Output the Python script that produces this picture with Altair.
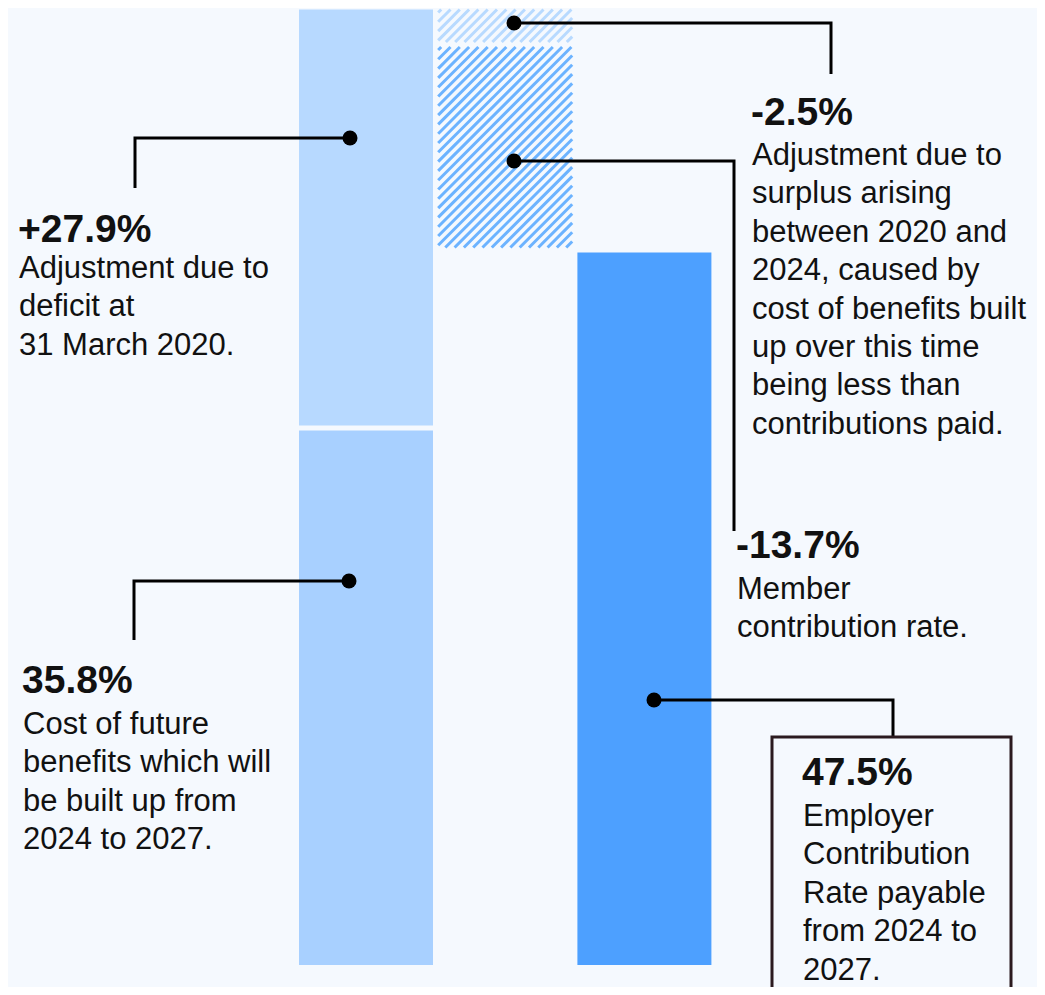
import altair as alt
import pandas as pd

# ---------------- data ----------------
STEP_LABELS = ["Future benefits cost", "Deficit adjustment", "Surplus adjustment",
               "Member contribution rate", "Employer contribution rate"]
STEP_VALUES = [35.8, 27.9, -2.5, -13.7, 47.5]
STEP_COLUMN = [0, 0, 1, 1, 2]
STEP_HATCHED = [False, False, True, True, False]
STEP_COLORS = ["#a8d0ff", "#b7d9ff", "#b8daff", "#6cb3ff", "#4da0ff"]
VALUE_LABELS = ["35.8%", "+27.9%", "-2.5%", "-13.7%", "47.5%"]
DESCRIPTIONS = [
    ["Cost of future", "benefits which will", "be built up from", "2024 to 2027."],
    ["Adjustment due to", "deficit at", "31 March 2020."],
    ["Adjustment due to", "surplus arising", "between 2020 and", "2024, caused by",
     "cost of benefits built", "up over this time", "being less than", "contributions paid."],
    ["Member", "contribution rate."],
    ["Employer", "Contribution", "Rate payable", "from 2024 to", "2027."],
]

# ---------------- layout (page pixels) ----------------
BG = "#f5f9fe"
W, H = 1029, 979
X_ORIGIN, PX_X = 366.0, 139.2     # column 0 centre, px per column
Y_ZERO, PX_Y = 965.0, 15.0        # baseline of bars, px per percentage point
HALF_W = 67.0 / PX_X


def ux(px):
    return (px - X_ORIGIN) / PX_X


def uy(py):
    return (Y_ZERO - py) / PX_Y


X_DOM = [ux(8), ux(8 + W)]
Y_DOM = [uy(8 + H), uy(8)]

# annotation placement: dot, elbow x, leader end y, label x, bold baseline, first body baseline
ANNOT = [
    dict(dot=(349, 581), ex=134, ey=640, tx=22, base=693, first=734),
    dict(dot=(350, 138), ex=135, ey=188, tx=18, base=242, first=278),
    dict(dot=(514, 23), ex=831, ey=74, tx=751, base=125, first=165),
    dict(dot=(514, 161), ex=734, ey=531, tx=736, base=558, first=599),
    dict(dot=(654, 700), ex=893, ey=738, tx=802, base=785, first=826),
]
LINE_STEP = 38.4
BOX = dict(x0=772, x1=1011, top=737)

# ---------------- derived tables ----------------
segs = []
running = 0.0
for i, v in enumerate(STEP_VALUES):
    if i == len(STEP_VALUES) - 1:
        lo, hi = 0.0, v
    else:
        start, end = running, running + v
        running = end
        lo, hi = min(start, end), max(start, end)
    c = STEP_COLUMN[i]
    segs.append(dict(label=STEP_LABELS[i], x0=c - HALF_W, x1=c + HALF_W, lo=lo, hi=hi,
                     color=STEP_COLORS[i], hatched=STEP_HATCHED[i]))

solid = pd.DataFrame([s for s in segs if not s["hatched"]])

# gap between stacked solid segments of column 0
gaps = pd.DataFrame([dict(x0=segs[0]["x0"], x1=segs[0]["x1"], y=segs[0]["hi"])])

# hatch stripes (diagonal "/"), clipped to each hatched segment
GAP_PX = 5.0
PERIOD = 9.3
stripes = []
for s in segs:
    if not s["hatched"]:
        continue
    x0p = X_ORIGIN + s["x0"] * PX_X
    x1p = X_ORIGIN + s["x1"] * PX_X
    ytp = Y_ZERO - s["hi"] * PX_Y
    ybp = Y_ZERO - s["lo"] * PX_Y - GAP_PX
    c = x0p + ytp + 3.0
    while c < x1p + ybp:
        xa = max(x0p, c - ybp)
        xb = min(x1p, c - ytp)
        if xb - xa > 0.5:
            stripes.append(dict(x=ux(xa), y=uy(c - xa), x2=ux(xb), y2=uy(c - xb), color=s["color"]))
        c += PERIOD
stripes = pd.DataFrame(stripes)

leader_rows, dot_rows, bold_rows, body_rows = [], [], [], []
for i, a in enumerate(ANNOT):
    dx, dy = a["dot"]
    for k, (px, py) in enumerate([(dx, dy), (a["ex"], dy), (a["ex"], a["ey"])]):
        leader_rows.append(dict(id=i, k=k, x=ux(px), y=uy(py)))
    dot_rows.append(dict(x=ux(dx), y=uy(dy)))
    bold_rows.append(dict(x=ux(a["tx"]), y=uy(a["base"]), text=VALUE_LABELS[i]))
    for j, line in enumerate(DESCRIPTIONS[i]):
        body_rows.append(dict(x=ux(a["tx"] + 1), y=uy(a["first"] + j * LINE_STEP), text=line))

leaders = pd.DataFrame(leader_rows)
dots = pd.DataFrame(dot_rows)
bold = pd.DataFrame(bold_rows)
body = pd.DataFrame(body_rows)
box = pd.DataFrame([dict(x0=ux(BOX["x0"]), x1=ux(BOX["x1"]), y0=uy(BOX["top"]), y1=uy(1200))])

# ---------------- chart ----------------
xs = alt.Scale(domain=X_DOM, nice=False, zero=False)
ys = alt.Scale(domain=Y_DOM, nice=False, zero=False)
X = lambda f: alt.X(f, type="quantitative", scale=xs, axis=None)
Y = lambda f: alt.Y(f, type="quantitative", scale=ys, axis=None)

bars = alt.Chart(solid).mark_rect().encode(
    x=X("x0"), x2="x1", y=Y("lo"), y2="hi",
    color=alt.Color("color:N", scale=None))

gap = alt.Chart(gaps).mark_rule(color=BG, strokeWidth=5).encode(
    x=X("x0"), x2="x1", y=Y("y"))

hatch = alt.Chart(stripes).mark_rule(strokeWidth=3, strokeCap="butt").encode(
    x=X("x"), y=Y("y"), x2="x2", y2="y2",
    color=alt.Color("color:N", scale=None))

lead = alt.Chart(leaders).mark_line(color="#000000", strokeWidth=3, strokeJoin="miter").encode(
    x=X("x"), y=Y("y"), detail="id:N", order="k:Q")

dot = alt.Chart(dots).mark_circle(color="#000000", size=225, opacity=1).encode(
    x=X("x"), y=Y("y"))

boxl = alt.Chart(box).mark_rect(fillOpacity=0, stroke="#2b1a1f", strokeWidth=3, clip=True).encode(
    x=X("x0"), x2="x1", y=Y("y0"), y2="y1")

tbold = alt.Chart(bold).mark_text(align="left", baseline="alphabetic", font="Liberation Sans",
                                  fontSize=39, fontWeight="bold", color="#111111").encode(
    x=X("x"), y=Y("y"), text="text:N")

tbody = alt.Chart(body).mark_text(align="left", baseline="alphabetic", font="Liberation Sans",
                                  fontSize=31, color="#111111").encode(
    x=X("x"), y=Y("y"), text="text:N")

chart = alt.layer(bars, gap, hatch, lead, dot, boxl, tbold, tbody).properties(
    width=W, height=H, padding=0, autosize=alt.AutoSizeParams(type="none"),
    background=BG
).configure_view(stroke=None, fill=BG)

chart.save("out.html", embed_options={"renderer": "svg", "actions": False})
